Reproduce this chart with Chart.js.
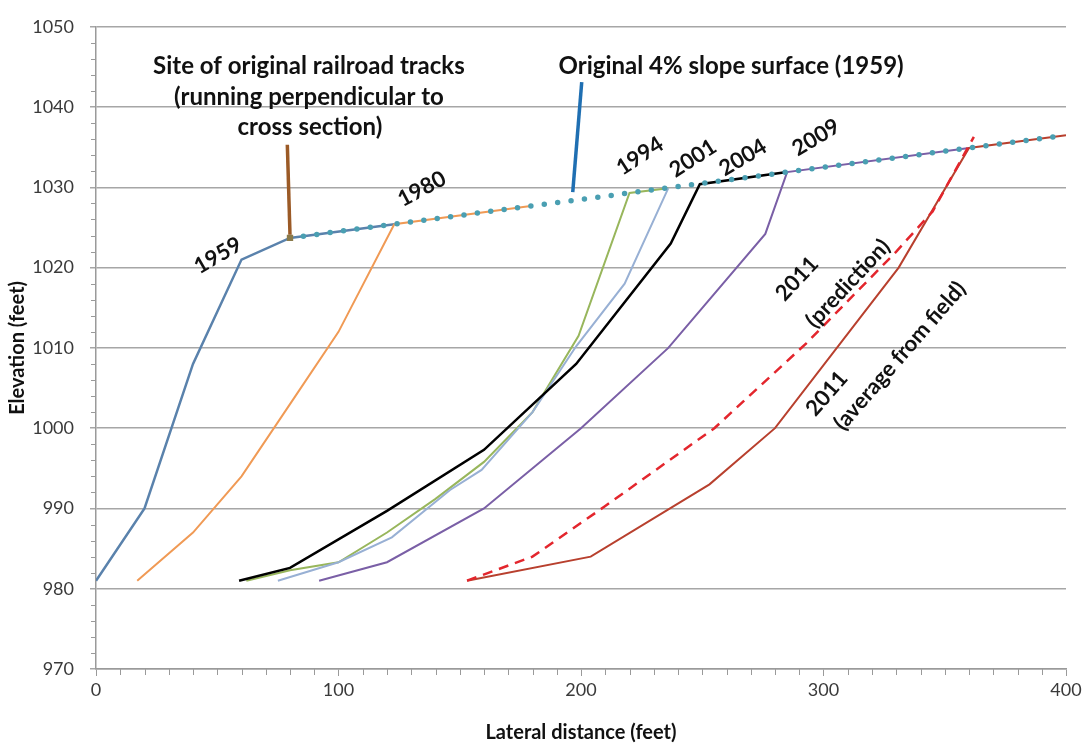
<!DOCTYPE html>
<html><head><meta charset="utf-8">
<script src="https://cdn.jsdelivr.net/npm/chart.js@4.4.0/dist/chart.umd.min.js"></script>
<style>html,body{margin:0;padding:0;background:#fff;overflow:hidden;} #wrap{width:1087px;height:746px;position:relative;}</style>
</head><body><div id="wrap"><canvas id="c" width="1087" height="746" style="width:1087px;height:746px"></canvas></div>
<script>
// ---- data (feet) ----
const x1959 = [0, 20, 40, 60, 80, 123];
const y1959 = [981, 990, 1008, 1021, 1023.7, 1025.4];
const x1980 = [17, 40, 60, 80, 100, 123, 180];
const y1980 = [981, 987, 994, 1003, 1012, 1025.4, 1027.7];
const x1994 = [62, 80, 100, 120, 140, 160, 180, 199, 220, 236];
const y1994 = [981, 982.3, 983.3, 987, 991.2, 995.8, 1002, 1011.5, 1029.3, 1029.9];
const x2001 = [75, 100, 122, 146, 159, 180, 198, 218, 236];
const y2001 = [981, 983.3, 986.4, 992.3, 994.8, 1002, 1010.2, 1018, 1029.9];
const x2004 = [59, 80, 120, 160, 198, 237, 249, 285];
const y2004 = [981, 982.6, 989.7, 997.3, 1008, 1023, 1030.4, 1031.9];
const x2009 = [92, 120, 160, 200, 236, 276, 285, 360];
const y2009 = [981, 983.3, 990, 1000, 1010, 1024.2, 1031.9, 1034.9];
const x2011field = [153, 204, 253, 280, 331, 360, 400];
const y2011field = [981, 984, 993, 1000, 1020, 1034.9, 1036.5];
const x2011pred = [153, 180, 210, 255, 293, 330, 345, 362];
const y2011pred = [981, 984, 990.3, 1000, 1010.6, 1022, 1027, 1036.3];
const xSlope = [80, 400];
const ySlope = [1023.7, 1036.5];
const xTracks = [80];
const yTracks = [1023.7];
// callout leader lines
const xTrackLeader = [78.9, 80];
const yTrackLeader = [1035.3, 1024.1];
const xSlopeLeader = [200.3, 196.6];
const ySlopeLeader = [1043.1, 1029.4];
// axes
const xTicks = [0, 100, 200, 300, 400];
const yTicks = [970, 980, 990, 1000, 1010, 1020, 1030, 1040, 1050];

const pts = (xs, ys) => xs.map((x, i) => ({x, y: ys[i]}));

// text notes (data coordinates of text centre, angle in degrees)
const notes = [
  {t: 'Site of original railroad tracks', x: 87.8, y: 1045.1, a: 0, s: 24},
  {t: '(running perpendicular to', x: 87.8, y: 1041.2, a: 0, s: 24},
  {t: 'cross section)', x: 88.2, y: 1037.5, a: 0, s: 24},
  {t: 'Original 4% slope surface (1959)', x: 261.9, y: 1045.1, a: 0, s: 24},
  {t: '1959', x: 50.3, y: 1021.5, a: -30, s: 22},
  {t: '1980', x: 134.4, y: 1029.8, a: -28, s: 22},
  {t: '1994', x: 224.3, y: 1033.9, a: -33, s: 22},
  {t: '2001', x: 246.2, y: 1033.6, a: -33, s: 22},
  {t: '2004', x: 266.8, y: 1033.7, a: -31, s: 22},
  {t: '2009', x: 296.9, y: 1036.2, a: -31, s: 22},
  {t: '2011', x: 289.1, y: 1018.6, a: -47, s: 22},
  {t: '(prediction)', x: 310.1, y: 1018.0, a: -47, s: 22},
  {t: '2011', x: 301.4, y: 1004.3, a: -49, s: 22},
  {t: '(average from field)', x: 331.5, y: 1009.0, a: -49, s: 22}
];

const AXIS = '#9a9a9a';
const notesPlugin = {
  id: 'notes',
  afterDraw(chart) {
    const {ctx, scales: {x, y}, chartArea: ca} = chart;
    ctx.save();
    ctx.strokeStyle = AXIS; ctx.lineWidth = 1;
    for (let v = 972; v < 1050; v += 2) {
      if (v % 10 === 0) continue;
      const py = Math.round(y.getPixelForValue(v)) + 0.5;
      ctx.beginPath(); ctx.moveTo(ca.left - 5, py); ctx.lineTo(ca.left, py); ctx.stroke();
    }
    for (let v = 10; v < 400; v += 10) {
      if (v % 100 === 0) continue;
      const px = Math.round(x.getPixelForValue(v)) + 0.5;
      ctx.beginPath(); ctx.moveTo(px, ca.bottom); ctx.lineTo(px, ca.bottom + 6); ctx.stroke();
    }
    ctx.fillStyle = '#111';
    ctx.textAlign = 'center'; ctx.textBaseline = 'middle';
    notes.forEach(n => {
      ctx.save();
      ctx.translate(x.getPixelForValue(n.x), y.getPixelForValue(n.y));
      ctx.rotate(n.a * Math.PI / 180);
      ctx.font = 'bold ' + n.s + 'px Lato';
      ctx.fillText(n.t, 0, 0);
      ctx.restore();
    });
    ctx.font = 'bold 20px Lato';
    ctx.fillText('Lateral distance (feet)', (ca.left + ca.right) / 2, 733);
    ctx.save();
    ctx.translate(18, (ca.top + ca.bottom) / 2);
    ctx.rotate(-Math.PI / 2);
    ctx.fillText('Elevation (feet)', 0, 0);
    ctx.restore();
    ctx.restore();
  }
};

const line = (data, color, w, extra) => Object.assign({
  type: 'line', data, borderColor: color, backgroundColor: color,
  borderWidth: w, pointRadius: 0, tension: 0, fill: false
}, extra || {});

new Chart(document.getElementById('c'), {
  type: 'line',
  data: {
    datasets: [
      line(pts(xTrackLeader, yTrackLeader), '#9b5a26', 3.5),
      line(pts(xSlopeLeader, ySlopeLeader), '#1f6fb2', 3.5),
      line(pts(xTracks, yTracks), '#8a7a4a', 0, {pointRadius: 4.5, pointStyle: 'rect', showLine: false}),
      line(pts(xSlope, ySlope), '#4a9fb2', 5.5, {borderDash: [0, 13.5], borderCapStyle: 'round'}),
      line(pts(x2011pred, y2011pred), '#e3262d', 2.5, {borderDash: [10, 7]}),
      line(pts(x2011field, y2011field), '#b8402e', 2),
      line(pts(x2009, y2009), '#7a5fa6', 2),
      line(pts(x2004, y2004), '#000000', 2.5),
      line(pts(x2001, y2001), '#98b0d4', 2),
      line(pts(x1994, y1994), '#98b65c', 2),
      line(pts(x1980, y1980), '#f09a55', 2),
      line(pts(x1959, y1959), '#5a82ac', 2.5)
    ]
  },
  options: {
    responsive: false,
    maintainAspectRatio: false,
    animation: false,
    devicePixelRatio: 1,
    layout: {padding: {top: 15, right: 21, left: 0, bottom: 0}},
    plugins: {legend: {display: false}, tooltip: {enabled: false}},
    scales: {
      x: {
        type: 'linear', min: 0, max: 400,
        afterFit: s => { s.height = 77; },
        afterBuildTicks: s => { s.ticks = xTicks.map(v => ({value: v})); },
        grid: {drawOnChartArea: false, drawTicks: true, tickLength: 7, color: AXIS},
        border: {display: true, color: AXIS, width: 1.5},
        ticks: {font: {family: 'Lato', size: 18}, color: '#3a3a3a', padding: 3, maxRotation: 0,
                callback: v => String(v)}
      },
      y: {
        type: 'linear', min: 970, max: 1050,
        afterFit: s => { s.width = 96; },
        afterBuildTicks: s => { s.ticks = yTicks.map(v => ({value: v})); },
        grid: {color: '#a6a6a6', lineWidth: 1.5, drawTicks: true, tickLength: 6},
        border: {display: true, color: AXIS, width: 1.5},
        ticks: {font: {family: 'Lato', size: 18}, color: '#3a3a3a', padding: 16,
                callback: v => String(v)}
      }
    }
  },
  plugins: [notesPlugin]
});
</script>
</body></html>
